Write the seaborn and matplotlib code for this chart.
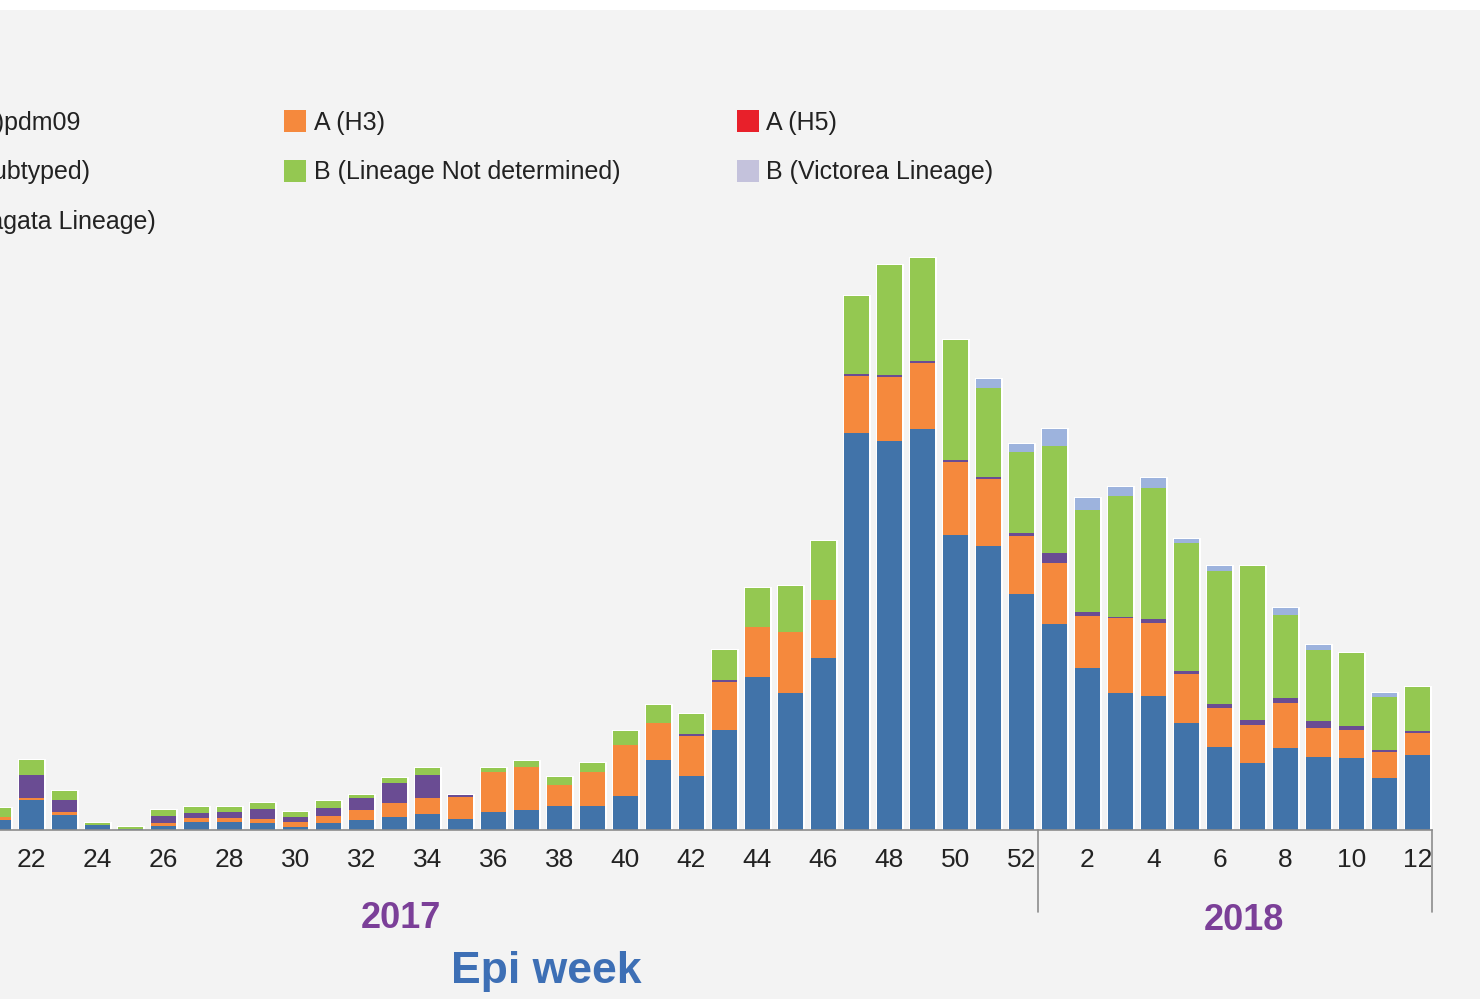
import pandas as pd
import numpy as np
import matplotlib.pyplot as plt
import seaborn as sns
from matplotlib.patches import Patch, Rectangle

# -----------------------------
# Data (counts per epi week)
# -----------------------------
weeks_2017 = [21, 22, 23, 24, 25, 26, 27, 28, 29, 30, 31, 32, 33, 34, 35, 36,
              37, 38, 39, 40, 41, 42, 43, 44, 45, 46, 47, 48, 49, 50, 51, 52]
weeks_2018 = [1, 2, 3, 4, 5, 6, 7, 8, 9, 10, 11, 12]

series_names = ["A(H1N1)pdm09", "A (H3)", "A (H5)", "A (not subtyped)",
                "B (Lineage Not determined)", "B (Victorea Lineage)",
                "B (Yamagata Lineage)"]

h1n1 = [10, 30, 15, 5, 1, 4, 8, 8, 7, 3, 7, 10, 13, 16, 11, 18,
        20, 24, 24, 34, 70, 54, 100, 153, 137, 172, 397, 389, 401, 295, 284, 236,
        206, 162, 137, 134, 107, 83, 67, 82, 73, 72, 52, 75]
h3 = [3, 2, 3, 0, 0, 3, 4, 4, 4, 5, 7, 10, 14, 16, 22, 40,
      43, 21, 34, 51, 37, 40, 48, 50, 61, 58, 57, 64, 66, 73, 67, 58,
      61, 52, 75, 73, 49, 39, 38, 45, 29, 28, 26, 22]
h5 = [0] * 44
not_subtyped = [0, 23, 12, 0, 0, 7, 5, 6, 10, 5, 8, 12, 20, 23, 2, 0,
                0, 0, 0, 0, 0, 2, 2, 0, 0, 0, 2, 2, 2, 2, 2, 3,
                10, 4, 1, 4, 3, 4, 5, 5, 7, 4, 2, 2]
b_nd = [9, 15, 9, 2, 2, 6, 6, 5, 6, 5, 7, 3, 5, 7, 0, 4,
        6, 8, 9, 14, 18, 20, 30, 39, 46, 59, 78, 110, 103, 120, 89, 81,
        107, 102, 121, 131, 128, 133, 154, 83, 71, 73, 53, 44]
b_victoria = [0] * 44
b_yamagata = [0, 0, 0, 0, 0, 0, 0, 0, 0, 0, 0, 0, 0, 0, 0, 0,
              0, 0, 0, 0, 0, 0, 0, 0, 0, 0, 0, 0, 0, 0, 9, 8,
              17, 12, 9, 10, 4, 5, 0, 7, 5, 0, 4, 0]

colors = ["#4173a9", "#f5893d", "#e8202a", "#6a4c93",
          "#94c851", "#c4c2dc", "#9db3dd"]

slots = [f"2017-{w}" for w in weeks_2017] + [f"2018-{w}" for w in weeks_2018]
week_labels = weeks_2017 + weeks_2018

df = pd.DataFrame({"slot": slots})
for name, vals in zip(series_names, [h1n1, h3, h5, not_subtyped, b_nd,
                                     b_victoria, b_yamagata]):
    df[name] = vals
# cumulative heights for stacking
cum = df[series_names].cumsum(axis=1)

# -----------------------------
# Figure
# -----------------------------
sns.set_theme(style="white")
plt.rcParams["font.family"] = ["Liberation Sans", "DejaVu Sans"]
bg = "#f3f3f3"

fig = plt.figure(figsize=(14.8, 9.99), dpi=100, facecolor=bg)
ax = fig.add_axes([0.0, 1 - 830 / 999, 1432 / 1480, 590 / 999])
ax.set_facecolor(bg)

# outline (white halo) from the total bar, then layers top-down
sns.barplot(x=df["slot"], y=cum[series_names[-1]], order=slots, color=colors[-1],
            saturation=1, width=0.76, edgecolor="white", linewidth=2.2,
            errorbar=None, ax=ax)
for i in range(len(series_names) - 1, -1, -1):
    sns.barplot(x=df["slot"], y=cum[series_names[i]], order=slots, color=colors[i],
                saturation=1, width=0.76, linewidth=0, errorbar=None, ax=ax)

ax.set_xlim(0.045, 43.44)
ax.set_ylim(0, 590)
ax.set_yticks([])
ax.set_xlabel("")
ax.set_ylabel("")

tick_pos = [i for i, w in enumerate(week_labels) if w % 2 == 0]
ax.set_xticks(tick_pos)
ax.set_xticklabels([str(week_labels[i]) for i in tick_pos])
ax.tick_params(axis="x", length=0, pad=13, labelsize=19, labelcolor="#222222")

for s in ["top", "right", "left"]:
    ax.spines[s].set_visible(False)
ax.spines["bottom"].set_color("#8c8c8c")
ax.spines["bottom"].set_linewidth(1.2)

# year separators below the axis
trans = ax.get_xaxis_transform()
for xv in [31.5, 43.44]:
    ax.plot([xv, xv], [0, -82 / 590], transform=trans, color="#8c8c8c",
            lw=1.2, clip_on=False)

fig.text(401 / 1480, 1 - 919 / 999, "2017", ha="center", va="center",
         fontsize=26, fontweight="bold", color="#7b3f98")
fig.text(1244 / 1480, 1 - 920 / 999, "2018", ha="center", va="center",
         fontsize=26, fontweight="bold", color="#7b3f98")
fig.text(546 / 1480, 1 - 972 / 999, "Epi week", ha="center", va="center",
         fontsize=32, fontweight="bold", color="#3d6fb5")

# legend: three columns, the first one is cut by the left edge
columns = [[0, 3, 6], [1, 4], [2, 5]]
col_x = [-122, 284, 737]
for idx, xpx in zip(columns, col_x):
    handles = [Patch(facecolor=colors[i], edgecolor="none") for i in idx]
    leg = fig.legend(handles, [series_names[i] for i in idx],
                     loc="upper left", bbox_to_anchor=(xpx / 1480, 1 - 110 / 999),
                     frameon=False, fontsize=18, handlelength=0.88,
                     handleheight=1.0, handletextpad=0.3, labelspacing=1.0,
                     borderpad=0, borderaxespad=0)
    for t in leg.get_texts():
        t.set_color("#222222")

# white strip along the top edge
fig.patches.append(Rectangle((0, 1 - 10 / 999), 1, 10 / 999, transform=fig.transFigure,
                             facecolor="white", edgecolor="none", zorder=-1))

fig.savefig("out.png", dpi=100, facecolor=bg)
